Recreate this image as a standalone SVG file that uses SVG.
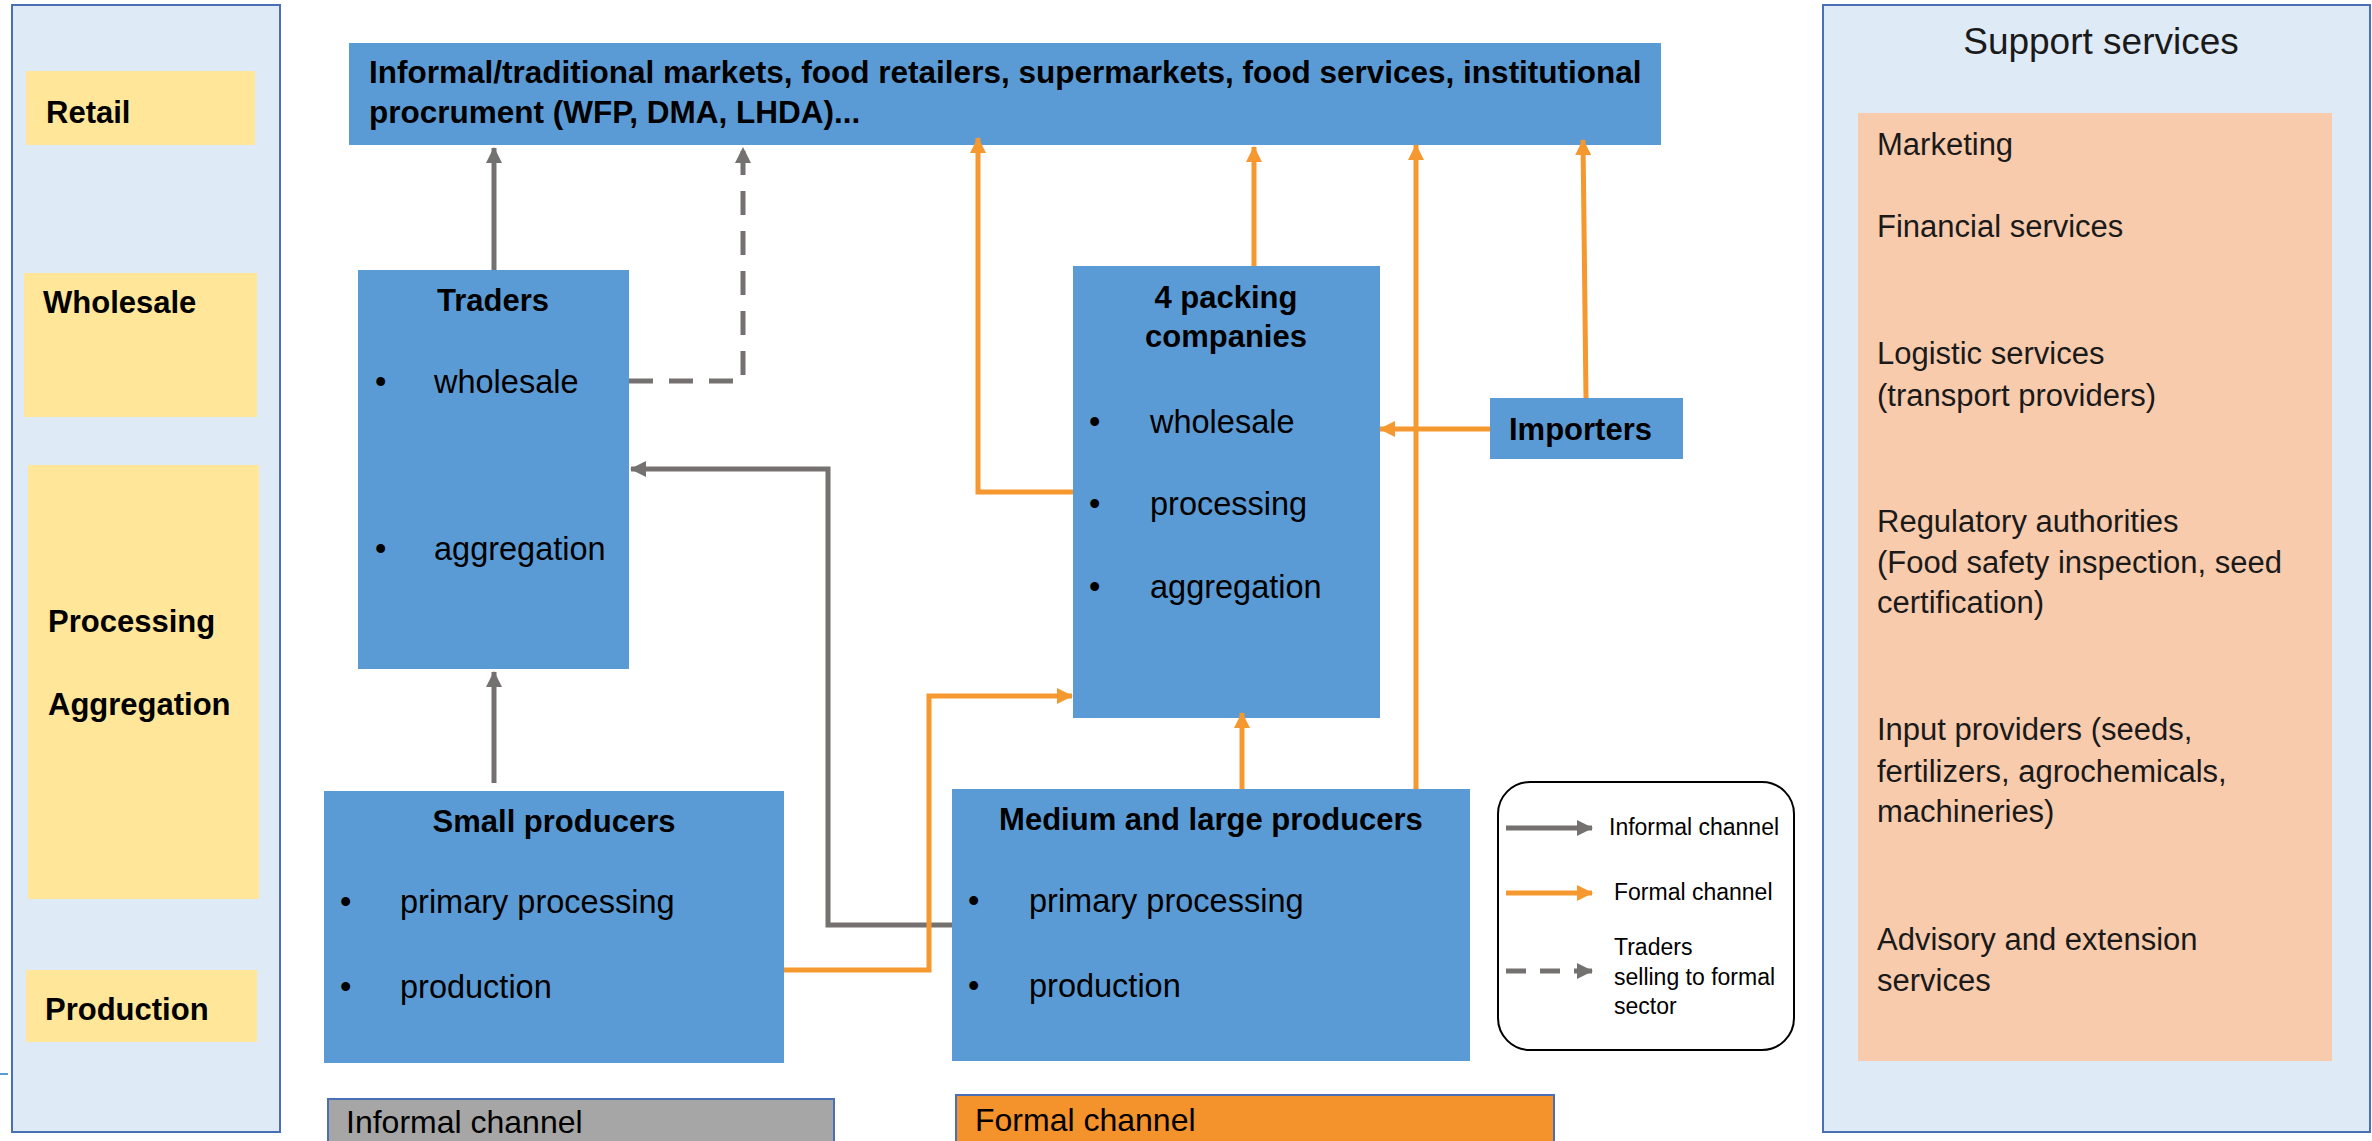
<svg xmlns="http://www.w3.org/2000/svg" width="2372" height="1141" viewBox="0 0 2372 1141">
<defs>
<style>
.panel{fill:#DEEAF6;stroke:#4A6FB5;stroke-width:2}
.stage{fill:#FFE699}
.node{fill:#5B9BD5}
.b{font-family:"Liberation Sans",Arial,sans-serif;font-weight:bold;font-size:31px;fill:#000}
.r{font-family:"Liberation Sans",Arial,sans-serif;font-size:32.5px;fill:#000}
.s{font-family:"Liberation Sans",Arial,sans-serif;font-size:31px;fill:#1a1a1a}
.lg{font-family:"Liberation Sans",Arial,sans-serif;font-size:23px;fill:#000}
.gray{fill:none;stroke:#767171;stroke-width:5}
.orange{fill:none;stroke:#F4982F;stroke-width:5}
.dash{fill:none;stroke:#767171;stroke-width:5;stroke-dasharray:24 16}
</style>
<marker id="ag" markerUnits="userSpaceOnUse" markerWidth="16" markerHeight="16" refX="15" refY="8" orient="auto"><path d="M0,0 L16,8 L0,16 z" fill="#767171"/></marker>
<marker id="ao" markerUnits="userSpaceOnUse" markerWidth="16" markerHeight="16" refX="15" refY="8" orient="auto"><path d="M0,0 L16,8 L0,16 z" fill="#F4982F"/></marker>
</defs>
<rect width="2372" height="1141" fill="#fff"/>
<line x1="0" y1="1074" x2="8" y2="1074" stroke="#5B9BD5" stroke-width="2"/>

<g id="stages">
<rect class="panel" x="12" y="5" width="268" height="1127"/>
<rect class="stage" x="26" y="71" width="229" height="74"/>
<text class="b" x="46" y="123">Retail</text>
<rect class="stage" x="24" y="273" width="233" height="144"/>
<text class="b" x="43" y="313">Wholesale</text>
<rect class="stage" x="28" y="465" width="231" height="434"/>
<text class="b" x="48" y="632">Processing</text>
<text class="b" x="48" y="715">Aggregation</text>
<rect class="stage" x="26" y="970" width="231" height="72"/>
<text class="b" x="45" y="1020">Production</text>
</g>

<g id="support">
<rect class="panel" x="1823" y="5" width="547" height="1127"/>
<text x="2101" y="54" text-anchor="middle" style="font-family:'Liberation Sans',Arial,sans-serif;font-size:37px;fill:#1a1a1a">Support services</text>
<rect x="1858" y="113" width="474" height="948" fill="#F8CBAD"/>
<text class="s" x="1877" y="155">Marketing</text>
<text class="s" x="1877" y="237">Financial services</text>
<text class="s" x="1877" y="364">Logistic services</text>
<text class="s" x="1877" y="406">(transport providers)</text>
<text class="s" x="1877" y="532">Regulatory authorities</text>
<text class="s" x="1877" y="573">(Food safety inspection, seed</text>
<text class="s" x="1877" y="613">certification)</text>
<text class="s" x="1877" y="740">Input providers (seeds,</text>
<text class="s" x="1877" y="782">fertilizers, agrochemicals,</text>
<text class="s" x="1877" y="822">machineries)</text>
<text class="s" x="1877" y="950">Advisory and extension</text>
<text class="s" x="1877" y="991">services</text>
</g>

<g id="markets">
<rect class="node" x="349" y="43" width="1312" height="102"/>
<text class="b" x="369" y="83" style="font-size:31.5px">Informal/traditional markets, food retailers, supermarkets, food services, institutional</text>
<text class="b" x="369" y="123" style="font-size:31.5px">procrument (WFP, DMA, LHDA)...</text>
</g>

<g id="traders">
<rect class="node" x="358" y="270" width="271" height="399"/>
<text class="b" x="493" y="311" text-anchor="middle">Traders</text>
<text class="r" x="375" y="393">•</text>
<text class="r" x="434" y="393">wholesale</text>
<text class="r" x="375" y="560">•</text>
<text class="r" x="434" y="560">aggregation</text>
</g>

<g id="packing">
<rect class="node" x="1073" y="266" width="307" height="452"/>
<text class="b" x="1226" y="308" text-anchor="middle">4 packing</text>
<text class="b" x="1226" y="347" text-anchor="middle">companies</text>
<text class="r" x="1089" y="433">•</text>
<text class="r" x="1150" y="433">wholesale</text>
<text class="r" x="1089" y="515">•</text>
<text class="r" x="1150" y="515">processing</text>
<text class="r" x="1089" y="598">•</text>
<text class="r" x="1150" y="598">aggregation</text>
</g>

<g id="importers">
<rect class="node" x="1490" y="398" width="193" height="61"/>
<text class="b" x="1509" y="440">Importers</text>
</g>

<g id="small">
<rect class="node" x="324" y="791" width="460" height="272"/>
<text class="b" x="554" y="832" text-anchor="middle">Small producers</text>
<text class="r" x="340" y="913">•</text>
<text class="r" x="400" y="913">primary processing</text>
<text class="r" x="340" y="998">•</text>
<text class="r" x="400" y="998">production</text>
</g>

<g id="medium">
<rect class="node" x="952" y="789" width="518" height="272"/>
<text class="b" x="1211" y="830" text-anchor="middle">Medium and large producers</text>
<text class="r" x="968" y="912">•</text>
<text class="r" x="1029" y="912">primary processing</text>
<text class="r" x="968" y="997">•</text>
<text class="r" x="1029" y="997">production</text>
</g>

<g id="connectors">
<path class="gray" d="M494,270 L494,148" marker-end="url(#ag)"/>
<path class="dash" d="M629,381 L743,381 L743,148" marker-end="url(#ag)"/>
<path class="gray" d="M494,783 L494,672" marker-end="url(#ag)"/>
<path class="gray" d="M952,925 L828,925 L828,469 L631,469" marker-end="url(#ag)"/>
<path class="orange" d="M784,970 L929,970 L929,696 L1072,696" marker-end="url(#ao)"/>
<path class="orange" d="M1073,492 L978,492 L978,138" marker-end="url(#ao)"/>
<path class="orange" d="M1254,266 L1254,147" marker-end="url(#ao)"/>
<path class="orange" d="M1242,789 L1242,713" marker-end="url(#ao)"/>
<path class="orange" d="M1416,789 L1416,145" marker-end="url(#ao)"/>
<path class="orange" d="M1490,429 L1380,429" marker-end="url(#ao)"/>
<path class="orange" d="M1586,398 L1583,140" marker-end="url(#ao)"/>
</g>

<g id="legend">
<rect x="1498" y="782" width="296" height="268" rx="32" ry="32" fill="#fff" stroke="#000" stroke-width="2"/>
<path class="gray" d="M1506,828 L1592,828" marker-end="url(#ag)"/>
<text class="lg" x="1609" y="835">Informal channel</text>
<path class="orange" d="M1506,893 L1592,893" marker-end="url(#ao)"/>
<text class="lg" x="1614" y="900">Formal channel</text>
<path class="dash" d="M1506,971 L1592,971" marker-end="url(#ag)" style="stroke-dasharray:20 14"/>
<text class="lg" x="1614" y="955">Traders</text>
<text class="lg" x="1614" y="985">selling to formal</text>
<text class="lg" x="1614" y="1014">sector</text>
</g>

<g id="channel-informal">
<rect x="328" y="1099" width="506" height="60" fill="#A6A6A6" stroke="#4A6FB5" stroke-width="2"/>
<text x="346" y="1133" style="font-family:'Liberation Sans',Arial,sans-serif;font-size:32px;fill:#000">Informal channel</text>
</g>
<g id="channel-formal">
<rect x="956" y="1095" width="598" height="64" fill="#F4922B" stroke="#4A6FB5" stroke-width="2"/>
<text x="975" y="1131" style="font-family:'Liberation Sans',Arial,sans-serif;font-size:32px;fill:#000">Formal channel</text>
</g>
</svg>
